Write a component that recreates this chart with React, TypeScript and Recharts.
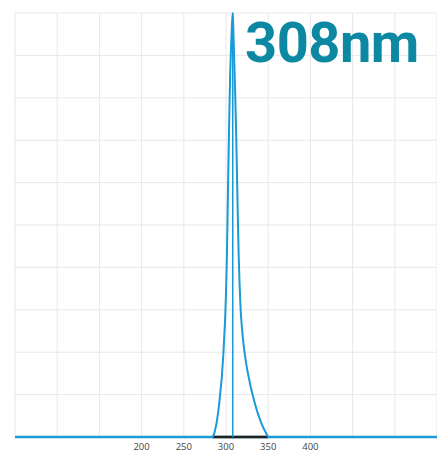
import { LineChart, Line, XAxis, YAxis, CartesianGrid, ReferenceLine } from 'recharts';

// wavelength (nm) and relative intensity (%)
const wavelengths = [
  50, 280, 284, 285, 286, 287, 288, 289, 290, 291, 292, 293, 294, 295, 296, 297, 298, 299,
  300, 301, 302, 303, 304, 305, 306, 307, 308, 309, 310, 311, 312, 313, 314, 315, 316, 317,
  318, 319, 320, 321, 322, 324, 326, 328, 330, 332, 334, 336, 338, 340, 342, 344, 346, 348,
  350, 550,
];
const intensity = [
  0, 0, 0, 0.3, 0.8, 1.6, 2.5, 3.5, 4.8, 6.3, 8, 10, 12, 14, 17, 20, 24, 28,
  34, 42, 54, 66, 77, 86, 92, 97, 100, 94, 87, 80, 72, 62, 52, 43, 36.5, 31.5,
  28, 25.5, 23.3, 21.5, 20, 17.2, 15, 13, 11.2, 9.6, 8.1, 6.7, 5.4, 4.3, 3.2, 2.3, 1.5, 0.7,
  0, 0,
];
const xTicks = [50, 100, 150, 200, 250, 300, 350, 400, 450, 500, 550];
const xLabels = [200, 250, 300, 350, 400];
const yTicks = [0, 10, 20, 30, 40, 50, 60, 70, 80, 90, 100];
const peak = 308;
const bandStart = 284;
const bandEnd = 350;
const title = '308nm';

const data = wavelengths.map((w, i) => ({ w, v: intensity[i] }));

export default function App() {
  return (
    <div style={{ position: 'absolute', left: 0, top: 0, width: 437, height: 452, background: '#fff' }}>
      <LineChart
        width={437}
        height={452}
        data={data}
        margin={{ top: 13, right: 0, left: 15, bottom: 0 }}
      >
        <CartesianGrid stroke="#e8e8e8" strokeWidth={1} />
        <XAxis
          dataKey="w"
          type="number"
          domain={[50, 550]}
          ticks={xTicks}
          interval={0}
          height={15}
          tickLine={false}
          axisLine={false}
          tickMargin={0}
          tick={{ fontSize: 9.5, fill: '#444', fontFamily: 'Open Sans' }}
          tickFormatter={(t: number) => (xLabels.includes(t) ? String(t) : '')}
        />
        <YAxis hide domain={[0, 100]} ticks={yTicks} />
        <ReferenceLine y={0} stroke="#2a90c6" strokeWidth={2.5} ifOverflow="visible" />
        <ReferenceLine
          segment={[{ x: bandStart, y: 0 }, { x: bandEnd, y: 0 }]}
          stroke="#222"
          strokeWidth={2.5}
          ifOverflow="visible"
        />
        <ReferenceLine x={peak} stroke="#1a9ad6" strokeWidth={1.5} />
        <Line
          type="monotone"
          dataKey="v"
          stroke="#1a9ad6"
          strokeWidth={2}
          dot={false}
          isAnimationActive={false}
        />
      </LineChart>
      <div
        style={{
          position: 'absolute',
          left: 245,
          top: 10,
          fontFamily: 'Roboto',
          fontWeight: 700,
          fontSize: 56,
          lineHeight: '66px',
          color: '#0d88a3',
          letterSpacing: -0.5,
        }}
      >
        {title}
      </div>
    </div>
  );
}
